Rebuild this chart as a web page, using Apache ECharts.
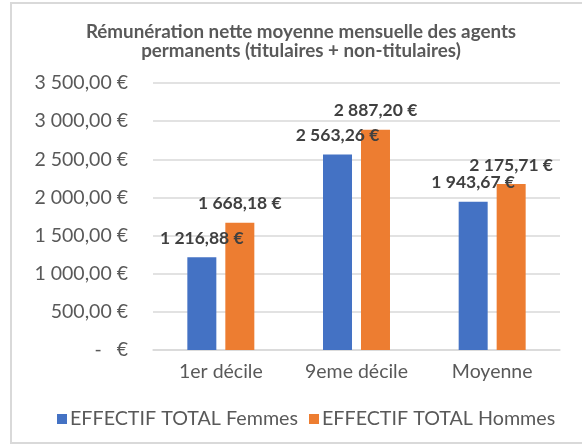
<!DOCTYPE html>
<html>
<head>
<meta charset="utf-8">
<script src="https://cdn.jsdelivr.net/npm/echarts@6/dist/echarts.min.js"></script>
<style>
  html, body { margin: 0; padding: 0; background: #fff; }
  #chart { width: 582px; height: 445px; }
</style>
</head>
<body>
<div id="chart"></div>
<script>
// données
const titre = 'Rémunération nette moyenne mensuelle des agents\npermanents (titulaires + non-titulaires)';
const categories = ['1er décile', '9eme décile', 'Moyenne'];
const seriesNames = ['EFFECTIF TOTAL Femmes', 'EFFECTIF TOTAL Hommes'];
const femmes = [1216.88, 2563.26, 1943.67];
const hommes = [1668.18, 2887.20, 2175.71];
const yTicks = [0, 500, 1000, 1500, 2000, 2500, 3000, 3500];

const FONT = 'Lato, "Open Sans", sans-serif';

// format "1 216,88 €"
function euro(v) {
  if (v === 0) return '-   €';
  const parts = v.toFixed(2).split('.');
  const ent = parts[0].replace(/\B(?=(\d{3})+(?!\d))/g, ' ');
  return ent + ',' + parts[1] + ' €';
}

const chart = echarts.init(document.getElementById('chart'));

const labelStyle = {
  show: true,
  position: 'top',
  distance: 9,
  color: '#404040',
  fontFamily: FONT,
  fontWeight: 'bold',
  fontSize: 17.5,
  lineHeight: 20,
  formatter: (p) => euro(p.value)
};

chart.setOption({
  animation: false,
  color: ['#4472C4', '#ED7D31'],
  graphic: [
    {
      type: 'rect',
      shape: { x: 11, y: 3, width: 620, height: 440 },
      style: { fill: 'none', stroke: '#d9d9d9', lineWidth: 2 },
      silent: true
    },
    {
      // titre centré un peu à droite, comme dans Excel
      type: 'text',
      x: 301,
      y: 22,
      silent: true,
      style: {
        text: titre,
        align: 'center',
        verticalAlign: 'top',
        fill: '#595959',
        fontFamily: FONT,
        fontWeight: 'bold',
        fontSize: 18.8,
        lineHeight: 19
      }
    }
  ],
  legend: {
    data: seriesNames,
    left: 52,
    top: 404,
    itemWidth: 10,
    itemHeight: 10,
    itemGap: 11,
    icon: 'rect',
    textStyle: { color: '#595959', fontFamily: FONT, fontSize: 19.7, padding: [0, 0, 0, -2] }
  },
  grid: { left: 153, right: 22, top: 83, bottom: 95 },
  xAxis: {
    type: 'category',
    data: categories,
    axisLine: { lineStyle: { color: '#d9d9d9', width: 1.5 } },
    axisTick: { show: false },
    axisLabel: { color: '#595959', fontFamily: FONT, fontSize: 19.5, margin: 12 }
  },
  yAxis: {
    type: 'value',
    min: yTicks[0],
    max: yTicks[yTicks.length - 1],
    interval: 500,
    axisLine: { show: false },
    axisTick: { show: false },
    splitLine: { lineStyle: { color: '#d9d9d9', width: 1.5 } },
    axisLabel: { color: '#595959', fontFamily: FONT, fontSize: 19.5, margin: 25, formatter: euro }
  },
  series: [
    {
      name: seriesNames[0],
      type: 'bar',
      data: femmes,
      barWidth: 29,
      barGap: '31%',
      label: labelStyle
    },
    {
      name: seriesNames[1],
      type: 'bar',
      data: hommes,
      barWidth: 29,
      barGap: '31%',
      label: labelStyle
    }
  ]
});
</script>
</body>
</html>
